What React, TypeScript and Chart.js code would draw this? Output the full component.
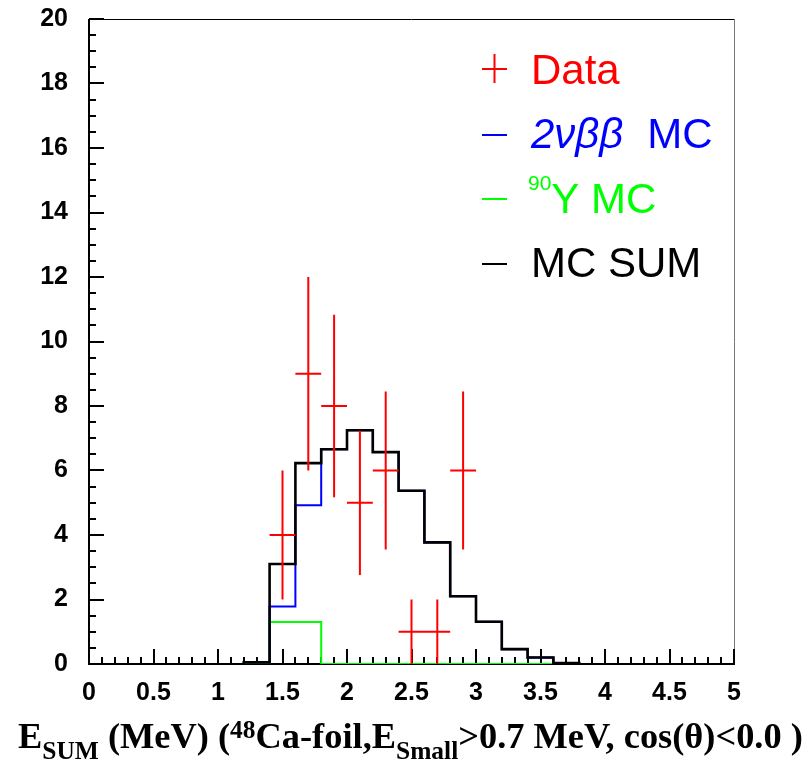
import { useEffect, useRef } from 'react';
import { Chart, registerables } from 'chart.js';

Chart.register(...registerables);

// ---- data ----
const binStart = 1.2;
const binWidth = 0.2;
const mcSum = [0.05, 3.1, 6.23, 6.66, 7.25, 6.57, 5.37, 3.77, 2.1, 1.31, 0.46, 0.2, 0.03];
const mc2nbb = [0.05, 1.78, 4.92, 6.66, 7.25, 6.57, 5.37, 3.77, 2.1, 1.31, 0.46, 0.2, 0.03];
const mcY90 = [0, 1.3, 1.3, 0, 0, 0, 0, 0, 0, 0, 0, 0];
const dataX = [1.5, 1.7, 1.9, 2.1, 2.3, 2.5, 2.7, 2.9];
const dataY = [4, 9, 8, 5, 6, 1, 1, 6];
const dataErr = [2, 3, 2.83, 2.24, 2.45, 1, 1, 2.45];
const xMin = 0;
const xMax = 5;
const yMin = 0;
const yMax = 20;
const xMajorStep = 0.5;
const xMinorStep = 0.1;
const yMajorStep = 2;
const yMinorStep = 0.5;

const legendLabels = ['Data', '2νββ', 'MC', '90', 'Y MC', 'MC SUM'];
const titleParts = ['E', 'SUM', ' (MeV) (', '48', 'Ca-foil,E', 'Small', '>0.7 MeV, cos(θ)<0.0 )'];

function histPoints(values: number[]) {
  const pts: { x: number; y: number }[] = [];
  pts.push({ x: binStart, y: 0 });
  values.forEach((v, i) => {
    pts.push({ x: binStart + i * binWidth, y: v });
    pts.push({ x: binStart + (i + 1) * binWidth, y: v });
  });
  pts.push({ x: binStart + values.length * binWidth, y: 0 });
  return pts;
}

function crossPoints() {
  const pts: { x: number; y: number | null }[] = [];
  dataX.forEach((x, i) => {
    const y = dataY[i];
    const e = dataErr[i];
    pts.push({ x: x - binWidth / 2, y });
    pts.push({ x: x + binWidth / 2, y });
    pts.push({ x: x + binWidth / 2, y: null });
    pts.push({ x, y: Math.max(y - e, 0) });
    pts.push({ x, y: y + e });
    pts.push({ x, y: null });
  });
  return pts;
}

const framePlugin = {
  id: 'frame',
  beforeDatasetsDraw(chart: any) {
    const { ctx, chartArea } = chart;
    const xs = chart.scales.x;
    const ys = chart.scales.y;
    const { left, right, top, bottom } = chartArea;
    ctx.save();
    // top frame
    ctx.strokeStyle = '#000';
    ctx.lineWidth = 1;
    ctx.beginPath();
    ctx.moveTo(left, top + 0.5);
    ctx.lineTo(right, top + 0.5);
    ctx.stroke();
    // right frame
    ctx.strokeStyle = '#777';
    ctx.beginPath();
    ctx.moveTo(right + 0.5, top);
    ctx.lineTo(right + 0.5, bottom);
    ctx.stroke();
    // axes
    ctx.strokeStyle = '#000';
    ctx.lineWidth = 2;
    ctx.beginPath();
    ctx.moveTo(left, top);
    ctx.lineTo(left, bottom);
    ctx.lineTo(right + 1, bottom);
    ctx.stroke();
    // y ticks
    const nY = Math.round((yMax - yMin) / yMinorStep);
    const perY = Math.round(yMajorStep / yMinorStep);
    for (let i = 0; i <= nY; i++) {
      const py = Math.round(ys.getPixelForValue(yMin + i * yMinorStep));
      const len = i % perY === 0 ? 15 : 7;
      ctx.beginPath();
      ctx.moveTo(left, py);
      ctx.lineTo(left + len, py);
      ctx.stroke();
    }
    // x ticks
    const nX = Math.round((xMax - xMin) / xMinorStep);
    const perX = Math.round(xMajorStep / xMinorStep);
    for (let i = 0; i <= nX; i++) {
      const px = Math.round(xs.getPixelForValue(xMin + i * xMinorStep));
      const len = i % perX === 0 ? 15 : 7;
      ctx.beginPath();
      ctx.moveTo(px, bottom);
      ctx.lineTo(px, bottom - len);
      ctx.stroke();
    }
    ctx.restore();
  },
  afterDraw(chart: any) {
    const { ctx } = chart;
    ctx.save();
    // ---- legend ----
    const mx0 = 482;
    const mx1 = 507;
    const tx = 531;
    const rows = [84, 148, 213, 277];
    const lf = '42px "Liberation Sans", Arial, sans-serif';
    ctx.textBaseline = 'alphabetic';
    ctx.textAlign = 'left';
    // Data
    ctx.strokeStyle = '#ff0000';
    ctx.fillStyle = '#ff0000';
    ctx.lineWidth = 2;
    ctx.beginPath();
    ctx.moveTo(mx0, rows[0] - 15);
    ctx.lineTo(mx1, rows[0] - 15);
    ctx.moveTo((mx0 + mx1) / 2, rows[0] - 30);
    ctx.lineTo((mx0 + mx1) / 2, rows[0] - 1);
    ctx.stroke();
    ctx.font = lf;
    ctx.fillText(legendLabels[0], tx, rows[0]);
    // 2nbb
    ctx.strokeStyle = '#0000ff';
    ctx.fillStyle = '#0000ff';
    ctx.beginPath();
    ctx.moveTo(mx0, rows[1] - 13);
    ctx.lineTo(mx1, rows[1] - 13);
    ctx.stroke();
    ctx.font = 'italic 42px "Liberation Sans", Arial, sans-serif';
    ctx.fillText(legendLabels[1], tx, rows[1]);
    const w1 = ctx.measureText(legendLabels[1]).width;
    ctx.font = lf;
    ctx.fillText(legendLabels[2], tx + w1 + 24, rows[1]);
    // 90Y
    ctx.strokeStyle = '#00ff00';
    ctx.fillStyle = '#00ff00';
    ctx.beginPath();
    ctx.moveTo(mx0, rows[2] - 14);
    ctx.lineTo(mx1, rows[2] - 14);
    ctx.stroke();
    ctx.font = '21px "Liberation Sans", Arial, sans-serif';
    ctx.fillText(legendLabels[3], tx - 3, rows[2] - 23);
    const w3 = ctx.measureText(legendLabels[3]).width;
    ctx.font = lf;
    ctx.fillText(legendLabels[4], tx - 3 + w3, rows[2]);
    // MC SUM
    ctx.strokeStyle = '#000';
    ctx.fillStyle = '#000';
    ctx.beginPath();
    ctx.moveTo(mx0, rows[3] - 13);
    ctx.lineTo(mx1, rows[3] - 13);
    ctx.stroke();
    ctx.fillText(legendLabels[5], tx, rows[3]);

    // ---- x-axis title ----
    const base = 36;
    const small = 0.7;
    const fam = '"Liberation Serif", "Times New Roman", serif';
    const kinds = ['n', 'sub', 'n', 'sup', 'n', 'sub', 'n'];
    const measure = (scale: number) => {
      let w = 0;
      titleParts.forEach((p, i) => {
        const s = kinds[i] === 'n' ? base * scale : base * scale * small;
        ctx.font = `bold ${s}px ${fam}`;
        w += ctx.measureText(p).width;
      });
      return w;
    };
    const x0 = 18;
    const target = 785;
    const sc = target / measure(1);
    let x = x0;
    const baseline = 748;
    ctx.fillStyle = '#000';
    titleParts.forEach((p, i) => {
      const k = kinds[i];
      const s = k === 'n' ? base * sc : base * sc * small;
      ctx.font = `bold ${s}px ${fam}`;
      const y = k === 'sub' ? baseline + 11 : k === 'sup' ? baseline - 10 : baseline;
      ctx.fillText(p, x, y);
      x += ctx.measureText(p).width;
    });
    ctx.restore();
  },
};

export default function App() {
  const ref = useRef<HTMLCanvasElement | null>(null);
  useEffect(() => {
    document.body.style.margin = '0';
    document.body.style.overflow = 'hidden';
    if (!ref.current) return;
    const tickFont = { family: '"Liberation Sans", Arial, sans-serif', size: 25, weight: 'bold' as const };
    const chart = new Chart(ref.current, {
      type: 'line',
      data: {
        datasets: [
          {
            label: 'Data',
            data: crossPoints() as any,
            borderColor: '#ff0000',
            borderWidth: 2,
            pointRadius: 0,
            spanGaps: false,
            fill: false,
            order: 0,
          },
          {
            label: 'MC SUM',
            data: histPoints(mcSum),
            borderColor: '#000000',
            borderWidth: 2.6,
            pointRadius: 0,
            fill: false,
            order: 1,
          },
          {
            label: '2νββ MC',
            data: histPoints(mc2nbb),
            borderColor: '#0000ff',
            borderWidth: 2,
            pointRadius: 0,
            fill: false,
            order: 2,
          },
          {
            label: '90Y MC',
            data: histPoints(mcY90),
            borderColor: '#00ff00',
            borderWidth: 2,
            pointRadius: 0,
            fill: false,
            order: 3,
          },
        ],
      },
      options: {
        responsive: false,
        animation: false,
        layout: { padding: { top: 19, right: 73, left: 0, bottom: 0 } },
        plugins: {
          legend: { display: false },
          tooltip: { enabled: false },
        },
        elements: { line: { tension: 0, borderCapStyle: 'butt', borderJoinStyle: 'miter' } },
        scales: {
          x: {
            type: 'linear',
            min: xMin,
            max: xMax,
            grid: { display: false, drawTicks: false },
            border: { display: false },
            ticks: {
              stepSize: xMajorStep,
              autoSkip: false,
              maxRotation: 0,
              padding: 14,
              color: '#000',
              font: tickFont,
              callback: (v: any) => String(Math.round(Number(v) * 10) / 10),
            },
            afterFit: (s: any) => {
              s.height = 97;
              s.paddingLeft = 0;
              s.paddingRight = 0;
            },
          },
          y: {
            type: 'linear',
            min: yMin,
            max: yMax,
            grid: { display: false, drawTicks: false },
            border: { display: false },
            ticks: {
              stepSize: yMajorStep,
              autoSkip: false,
              padding: 21,
              color: '#000',
              font: tickFont,
            },
            afterFit: (s: any) => {
              s.width = 89;
              s.paddingTop = 0;
              s.paddingBottom = 0;
            },
          },
        },
      },
      plugins: [framePlugin],
    });
    return () => chart.destroy();
  }, []);
  return <canvas ref={ref} width={807} height={761} style={{ display: 'block' }} />;
}
